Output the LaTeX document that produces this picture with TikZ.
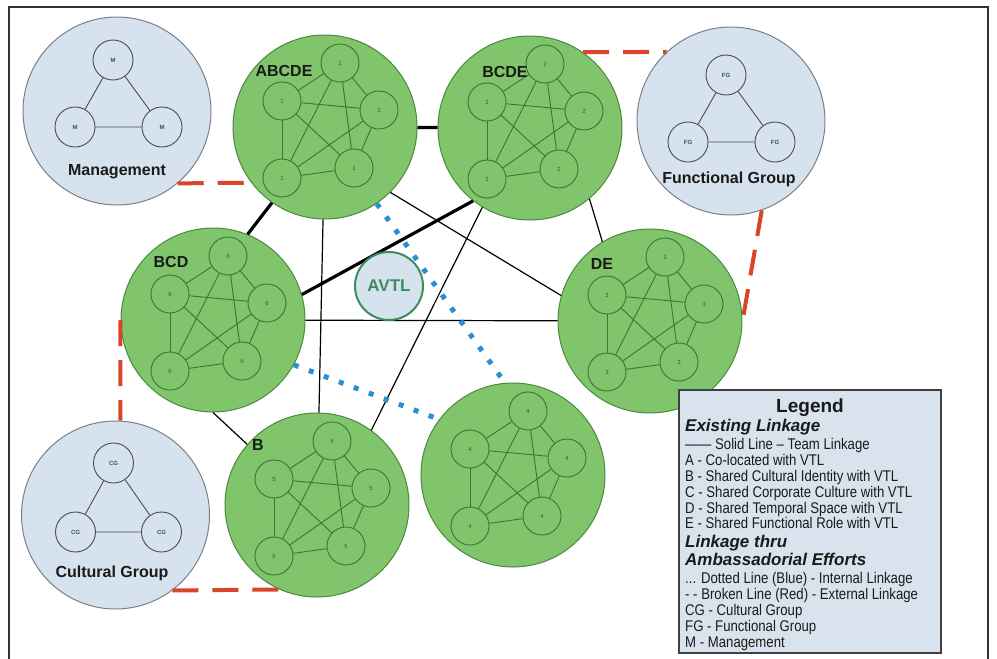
\documentclass[tikz,border=0pt]{standalone}
\usepackage{fontspec}
\setmainfont{Liberation Sans}
\newfontfamily\legendfont[FakeStretch=0.85]{Liberation Sans}
\usetikzlibrary{calc}

\definecolor{teamgreen}{HTML}{80C46C}
\definecolor{teamedge}{HTML}{4A8A3C}
\definecolor{memberedge}{HTML}{3A7632}
\definecolor{groupfill}{HTML}{D6E2EE}
\definecolor{groupedge}{HTML}{7A808A}
\definecolor{dotblue}{HTML}{2A8FD2}
\definecolor{dashred}{HTML}{D9442B}
\definecolor{avtlgreen}{HTML}{3C8C5E}
\definecolor{legendfill}{HTML}{D8E3EE}
\definecolor{ink}{HTML}{1A1A1A}

\tikzset{
  team/.style={circle, draw=teamedge, fill=teamgreen, line width=1pt,
    minimum size=184pt, inner sep=0pt},
  group/.style={circle, draw=groupedge, fill=groupfill, line width=1pt,
    minimum size=188pt, inner sep=0pt},
  member/.style={circle, draw=memberedge, line width=0.9pt, minimum size=38pt,
    inner sep=0pt, font=\fontsize{6}{6}\selectfont, text=black!70},
  gmember/.style={circle, draw=black!70, line width=0.9pt, minimum size=40pt,
    inner sep=0pt, font=\fontsize{6}{6}\selectfont\bfseries, text=black!70},
  memberlink/.style={draw=memberedge, line width=0.9pt},
  grouplink/.style={draw=black!70, line width=0.9pt},
  teamlink/.style={draw=black, line width=1.2pt},
  stronglink/.style={draw=black, line width=3.2pt},
  internal/.style={draw=dotblue, line width=5pt, dash pattern=on 5pt off 11pt},
  external/.style={draw=dashred, line width=4pt, dash pattern=on 26pt off 14pt},
  grouptitle/.style={anchor=base, text=ink, font=\fontsize{16}{16}\selectfont\bfseries},
  teamtitle/.style={anchor=base, text=ink, font=\fontsize{16}{16}\selectfont\bfseries},
  avtl/.style={circle, draw=avtlgreen, fill=groupfill, line width=2pt,
    minimum size=68pt, inner sep=0pt, text=avtlgreen,
    font=\fontsize{17}{17}\selectfont\bfseries},
  legendbox/.style={draw=black!75, fill=legendfill, line width=1.5pt,
    minimum width=262pt, minimum height=263pt, inner sep=0pt},
  legendtitle/.style={anchor=base, text=ink, font=\fontsize{19}{19}\selectfont\bfseries},
  legendhead/.style={anchor=base west, text=ink, inner sep=0pt,
    font=\fontsize{17}{17}\selectfont\bfseries\itshape},
  legenditem/.style={anchor=base west, text=ink, inner sep=0pt,
    font=\legendfont\fontsize{15.5}{16}\selectfont},
  frame/.style={draw=black!80, line width=1.5pt}
}

% five fully linked members inside a team circle
\newcommand\teamgraph[2]{%
  \node[member] (#1-t)  at ($(#1)+(15,-64)$) {#2};
  \node[member] (#1-l)  at ($(#1)+(-43,-26)$) {#2};
  \node[member] (#1-r)  at ($(#1)+(54,-17)$) {#2};
  \node[member] (#1-bl) at ($(#1)+(-43,51)$) {#2};
  \node[member] (#1-br) at ($(#1)+(29,41)$) {#2};
  \foreach \a/\b in {t/l,t/r,t/bl,t/br,l/r,l/bl,l/br,r/bl,r/br,bl/br}
    \draw[memberlink] (#1-\a) -- (#1-\b);
}

% three linked members inside a group circle
\newcommand\trio[5]{%
  \node[gmember] (#1-t) at ($(#1)+#3$) {#2};
  \node[gmember] (#1-l) at ($(#1)+#4$) {#2};
  \node[gmember] (#1-r) at ($(#1)+#5$) {#2};
  \draw[grouplink] (#1-t) -- (#1-l) (#1-t) -- (#1-r) (#1-l) -- (#1-r);
}

\begin{document}
\begin{tikzpicture}[x=1pt,y=-1pt]
\useasboundingbox (0,0) rectangle (997,659);
\draw[frame] (9,659) -- (9,7) -- (988,7) -- (988,659);

% outer groups
\node[group] (M)  at (117,111) {};
\node[group] (FG) at (731,121) {};
\node[group] (CG) at (115.5,515) {};
\trio{M}{M}{(-4,-51)}{(-42,16)}{(45,16)}
\trio{FG}{FG}{(-5,-46)}{(-43,21)}{(44,21)}
\trio{CG}{CG}{(-2,-52)}{(-40,17)}{(46,17)}
\node[grouptitle] (M-name)  at (117,175) {Management};
\node[grouptitle] (FG-name) at (729,183) {Functional Group};
\node[grouptitle] (CG-name) at (112,577) {Cultural Group};

% teams
\node[team] (ABCDE) at (325,127) {};
\node[team] (BCDE)  at (530,128) {};
\node[team] (BCD)   at (213,320) {};
\node[team] (DE)    at (650,321) {};
\node[team] (B)     at (317,505) {};
\node[team] (N4)    at (513,475) {};
\teamgraph{ABCDE}{1}
\teamgraph{BCDE}{2}
\teamgraph{DE}{3}
\teamgraph{N4}{4}
\teamgraph{B}{5}
\teamgraph{BCD}{6}
\node[teamtitle] (ABCDE-name) at (284,76) {ABCDE};
\node[teamtitle] (BCDE-name)  at (505,77) {BCDE};
\node[teamtitle] (BCD-name)   at (171,267) {BCD};
\node[teamtitle] (DE-name)    at (602,269) {DE};
\node[teamtitle] (B-name)     at (258,450) {B};

% team linkage
\draw[stronglink] (ABCDE) -- (BCDE);
\draw[stronglink] (ABCDE.235) -- (BCD.68);
\draw[stronglink] (BCDE.232) -- (BCD.16);
\draw[teamlink] (BCDE.310) -- (DE.121);
\draw[teamlink] (ABCDE.315) -- (DE.164);
\draw[teamlink] (BCD) -- (DE);
\draw[teamlink] (ABCDE) -- (B);
\draw[teamlink] (BCDE.239) -- (B.54);
\draw[teamlink] (BCD.270) -- (B.139);

% internal linkage
\draw[internal] (ABCDE.304) -- (N4.95);
\draw[internal] (BCD.331) -- (N4.143);

% external linkage
\draw[external] (M.310) -- (ABCDE.217);
\draw[external] (BCDE.55) -- (FG.133);
\draw[external] (FG.289) -- (DE.0);
\draw[external] (BCD.180) -- (CG.87);
\draw[external] (CG.307) -- (B.246);

\node[avtl] (AVTL) at (389,286) {AVTL};

% legend
\node[legendbox] (legend) at (810,521.5) {};
\node[legendtitle] (lg0) at (810,412) {Legend};
\node[legendhead] (lg1) at (685,431) {Existing Linkage};
\node[legenditem] (lg2) at (685,449) {—— Solid Line – Team Linkage};
\node[legenditem] (lg3) at (685,465) {A - Co-located with VTL};
\node[legenditem] (lg4) at (685,481) {B - Shared Cultural Identity with VTL};
\node[legenditem] (lg5) at (685,497) {C - Shared Corporate Culture with VTL};
\node[legenditem] (lg6) at (685,513) {D - Shared Temporal Space with VTL};
\node[legenditem] (lg7) at (685,528) {E - Shared Functional Role with VTL};
\node[legendhead] (lg8) at (685,547) {Linkage thru};
\node[legendhead] (lg9) at (685,565) {Ambassadorial Efforts};
\node[legenditem] (lg10) at (685,583) {... Dotted Line (Blue) - Internal Linkage};
\node[legenditem] (lg11) at (685,599) {- - Broken Line (Red) - External Linkage};
\node[legenditem] (lg12) at (685,615) {CG - Cultural Group};
\node[legenditem] (lg13) at (685,631) {FG - Functional Group};
\node[legenditem] (lg14) at (685,647) {M - Management};
\end{tikzpicture}
\end{document}
